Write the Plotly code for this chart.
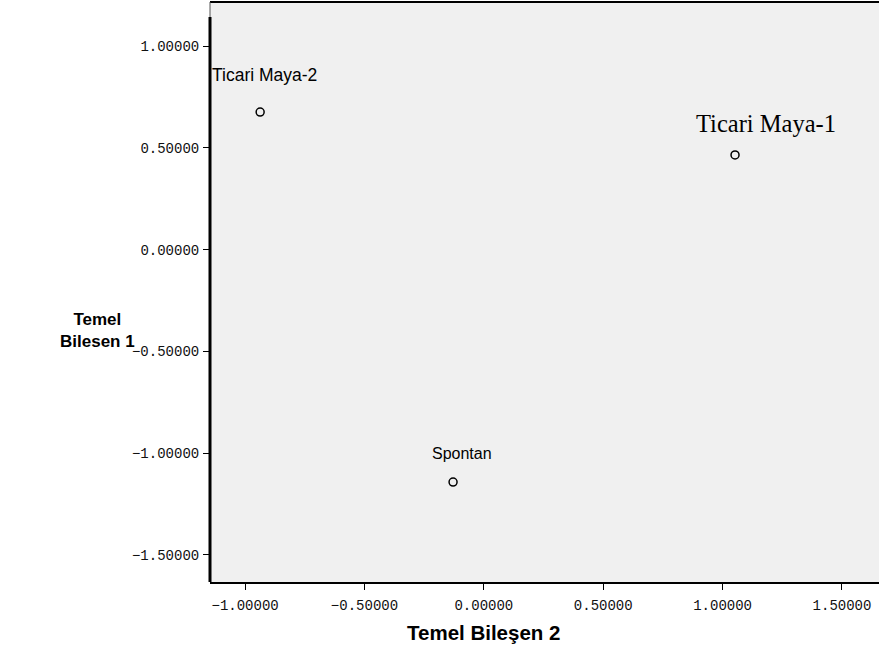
import plotly.graph_objects as go

names = ["Ticari Maya-2", "Ticari Maya-1", "Spontan"]
comp2 = [-0.937, 1.052, -0.129]   # x: Temel Bileşen 2
comp1 = [0.676, 0.465, -1.142]    # y: Temel Bileşen 1
label_fonts = ["Liberation Sans", "Liberation Serif", "Liberation Sans"]
label_sizes = [17.5, 24.5, 16]
label_yshift = [37, 31, 29]
label_xshift = [4, 31, 9]

xticks = [-1.0, -0.5, 0.0, 0.5, 1.0, 1.5]
yticks = [1.0, 0.5, 0.0, -0.5, -1.0, -1.5]

fig = go.Figure()
fig.add_trace(go.Scatter(
    x=comp2, y=comp1, mode="markers",
    marker=dict(symbol="circle-open", size=8, color="black", line=dict(width=1.5)),
    hoverinfo="text", text=names, showlegend=False,
))
for n, x, y, f, s, sy, sx in zip(names, comp2, comp1, label_fonts, label_sizes,
                                 label_yshift, label_xshift):
    fig.add_annotation(x=x, y=y, text=n, showarrow=False, yshift=sy, xshift=sx,
                       font=dict(family=f, size=s, color="black"))

tickfont = dict(family="Liberation Mono", size=14, color="#111")
fig.update_layout(
    width=879, height=647,
    margin=dict(l=210, r=0, t=2, b=65),
    paper_bgcolor="white", plot_bgcolor="#f0f0f0",
    xaxis=dict(range=[-1.147, 1.655], tickvals=xticks, tickformat=".5f",
               ticks="outside", ticklen=6, tickwidth=1, tickcolor="black",
               showgrid=False, zeroline=False, showline=True, linecolor="black",
               linewidth=2, tickfont=tickfont, ticklabelstandoff=3),
    yaxis=dict(range=[-1.633, 1.2166], tickvals=yticks, tickformat=".5f",
               ticks="outside", ticklen=6, tickwidth=1, tickcolor="black",
               showgrid=False, zeroline=False, showline=False, tickfont=tickfont,
               ticklabelstandoff=1),
)
fig.add_shape(type="line", xref="paper", yref="paper", x0=0, x1=1, y0=1, y1=1,
              line=dict(color="black", width=2))
fig.add_shape(type="line", xref="paper", yref="paper", x0=0, x1=0, y0=0, y1=1,
              line=dict(color="#555", width=1))
fig.add_shape(type="line", xref="paper", yref="paper", x0=0, x1=0, y0=0, y1=(582 - 17) / 580,
              line=dict(color="black", width=3))
fig.add_annotation(xref="paper", yref="paper", x=(483 - 210) / 669, y=0,
                   yshift=-50, yanchor="middle", text="<b>Temel Bileşen 2</b>",
                   showarrow=False, font=dict(family="Liberation Sans", size=20.5, color="black"))
fig.add_annotation(xref="paper", yref="paper", x=0, xshift=-152, y=(582 - 330) / 580,
                   text="<b>Temel<br>Bilesen 1</b>", showarrow=False, align="center",
                   font=dict(family="Liberation Sans", size=17, color="black"))
fig.write_html("out.html", config={"displayModeBar": False},
               post_script="document.body.style.margin='0px';")
